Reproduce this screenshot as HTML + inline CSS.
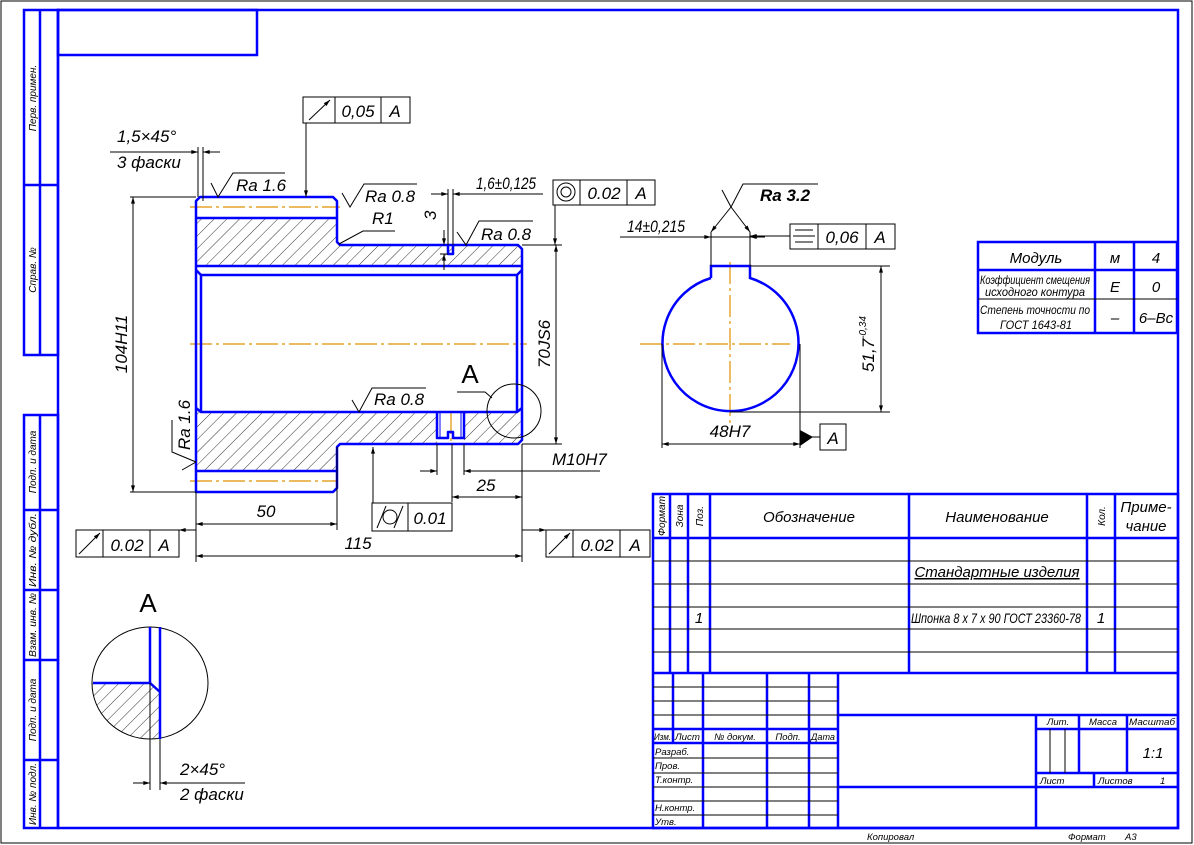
<!DOCTYPE html>
<html><head><meta charset="utf-8"><style>
html,body{margin:0;padding:0;background:#fff}
svg{display:block}
text{font-family:"Liberation Sans Narrow","Liberation Sans",sans-serif;font-style:italic;fill:#000}
</style></head><body>
<svg width="1194" height="845" viewBox="0 0 1194 845" xmlns="http://www.w3.org/2000/svg">
<defs>
<pattern id="h" patternUnits="userSpaceOnUse" width="9" height="9" patternTransform="rotate(45)">
<line x1="0" y1="0" x2="0" y2="9" stroke="#000" stroke-width="0.8"/>
</pattern>
<marker id="ar" viewBox="0 0 10 6" refX="10" refY="3" markerWidth="10" markerHeight="4" orient="auto-start-reverse" markerUnits="userSpaceOnUse"><path d="M0,0 L10,3 L0,6z" fill="#000"/></marker>
</defs>
<rect x="1" y="1" width="1191" height="842" fill="none" stroke="#000" stroke-width="1"/>
<g stroke="#0000ff" stroke-width="2.5" fill="none">
<rect x="58" y="10" width="1120" height="818"/>
<rect x="58" y="10" width="199" height="45"/>
<rect x="24" y="10" width="34" height="345"/>
<line x1="40" y1="10" x2="40" y2="355"/><line x1="24" y1="185" x2="58" y2="185"/>
<rect x="24" y="415" width="34" height="413"/>
<line x1="40" y1="415" x2="40" y2="828"/>
<line x1="24" y1="510" x2="58" y2="510"/><line x1="24" y1="590" x2="58" y2="590"/><line x1="24" y1="660" x2="58" y2="660"/><line x1="24" y1="760" x2="58" y2="760"/>
</g>
<g font-size="10">
<text transform="translate(36,98) rotate(-90)" text-anchor="middle">Перв. примен.</text>
<text transform="translate(36,270) rotate(-90)" text-anchor="middle">Справ. №</text>
<text transform="translate(36,462) rotate(-90)" text-anchor="middle">Подп. и дата</text>
<text transform="translate(36,550) rotate(-90)" text-anchor="middle" textLength="74" lengthAdjust="spacingAndGlyphs">Инв. № дубл.</text>
<text transform="translate(36,625) rotate(-90)" text-anchor="middle" textLength="64" lengthAdjust="spacingAndGlyphs">Взам. инв. №</text>
<text transform="translate(36,710) rotate(-90)" text-anchor="middle">Подп. и дата</text>
<text transform="translate(36,794) rotate(-90)" text-anchor="middle" textLength="62" lengthAdjust="spacingAndGlyphs">Инв. № подл.</text>
</g>

<g fill="url(#h)" stroke="none">
<rect x="196" y="218" width="141" height="48"/>
<rect x="337" y="245" width="185" height="21"/>
<rect x="196" y="412" width="141" height="59"/>
<rect x="337" y="412" width="100" height="32"/>
<rect x="464" y="412" width="58" height="32"/>
</g>
<g stroke="#e09000" stroke-width="1.2" stroke-dasharray="22,4,3,4">
<line x1="190" y1="344" x2="527" y2="344"/>
<line x1="190" y1="207" x2="340" y2="207"/>
<line x1="190" y1="481" x2="337" y2="481"/>
<line x1="640" y1="344" x2="790" y2="344"/>
<line x1="730" y1="262" x2="730" y2="424"/>
<line x1="451" y1="412" x2="451" y2="444"/>
</g>
<g stroke="#0000ff" stroke-width="2.5" fill="none" stroke-linejoin="round">
<path d="M196,492 L196,201 L200,197 L333,197 L337,201 L337,242 L340,245 L518,245 L522,249 L522,440 L518,444 L340,444 L337,447 L337,488 L333,492 L200,492 Z"/>
<line x1="196" y1="218" x2="337" y2="218"/>
<line x1="196" y1="266" x2="522" y2="266"/>
<line x1="196" y1="471" x2="337" y2="471"/>
<path d="M196,270 L201,275 L517,275 L522,270"/>
<path d="M196,408 L201,412 L517,412 L522,408"/>
<line x1="201" y1="275" x2="201" y2="412"/>
<line x1="517" y1="275" x2="517" y2="412"/>
<path d="M448,245 L448,254 L453,254 L453,245"/>
<path d="M437,412 L437,438 L448,438 L448,432 L453,432 L453,438 L464,438 L464,412"/>
<line x1="440" y1="412" x2="440" y2="438" stroke-width="1"/>
<line x1="461" y1="412" x2="461" y2="438" stroke-width="1"/>
</g>
<circle cx="514" cy="411" r="27" fill="none" stroke="#000" stroke-width="1"/>
<path d="M457,392 L485,392 L492,398" fill="none" stroke="#000" stroke-width="1"/>
<text x="470" y="383" font-size="26" text-anchor="middle" style="font-style:normal;font-family:'Liberation Sans',sans-serif">A</text>

<g stroke="#000" stroke-width="1" fill="none">
<line x1="130" y1="197" x2="196" y2="197"/><line x1="130" y1="492" x2="196" y2="492"/>
<line x1="133" y1="197" x2="133" y2="492" marker-start="url(#ar)" marker-end="url(#ar)"/>
<line x1="522" y1="245" x2="562" y2="245"/><line x1="522" y1="444" x2="562" y2="444"/>
<line x1="556" y1="245" x2="556" y2="444" marker-start="url(#ar)" marker-end="url(#ar)"/>
<line x1="196" y1="492" x2="196" y2="562"/>
<line x1="337" y1="447" x2="337" y2="530"/>
<line x1="522" y1="444" x2="522" y2="562"/>
<line x1="196" y1="524" x2="337" y2="524" marker-start="url(#ar)" marker-end="url(#ar)"/>
<line x1="196" y1="556" x2="522" y2="556" marker-start="url(#ar)" marker-end="url(#ar)"/>
<line x1="437" y1="444" x2="437" y2="475"/><line x1="464" y1="444" x2="464" y2="475"/>
<line x1="452" y1="444" x2="452" y2="502"/>
<line x1="452" y1="497" x2="522" y2="497" marker-start="url(#ar)" marker-end="url(#ar)"/>
<line x1="420" y1="471" x2="437" y2="471" marker-end="url(#ar)"/>
<line x1="481" y1="471" x2="464" y2="471" marker-end="url(#ar)"/>
<line x1="464" y1="471" x2="600" y2="471"/>
<line x1="198" y1="147" x2="198" y2="197"/><line x1="203" y1="147" x2="203" y2="201"/>
<line x1="110" y1="152" x2="198" y2="152"/>
<line x1="180" y1="152" x2="198" y2="152" marker-end="url(#ar)"/>
<line x1="220" y1="152" x2="203" y2="152" marker-end="url(#ar)"/>
<line x1="448" y1="189" x2="448" y2="245"/><line x1="453" y1="189" x2="453" y2="245"/>
<line x1="431" y1="194" x2="448" y2="194" marker-end="url(#ar)"/>
<line x1="470" y1="194" x2="453" y2="194" marker-end="url(#ar)"/>
<line x1="453" y1="194" x2="543" y2="194"/>
<line x1="440" y1="254" x2="448" y2="254"/>
<line x1="444" y1="230" x2="444" y2="245" marker-end="url(#ar)"/>
<line x1="444" y1="270" x2="444" y2="254" marker-end="url(#ar)"/>
<path d="M211,183 L218,197 L233,173 L285,173"/>
<path d="M342,193 L350,207 L364,184 L417,184"/>
<path d="M457,232 L466,245 L479,221 L533,221"/>
<path d="M352,400 L359,412 L372,388 L426,388"/>
<path d="M172,420 L172,452 L196,462 M182,470 L196,462"/>
<path d="M339,244 L363,231 L395,231"/>
<line x1="306" y1="123" x2="306" y2="197" marker-end="url(#ar)"/>
<line x1="555" y1="205" x2="555" y2="245" marker-end="url(#ar)"/>
<line x1="373" y1="503" x2="373" y2="447" marker-end="url(#ar)"/>
<line x1="179" y1="530" x2="196" y2="530" marker-start="url(#ar)"/>
<line x1="546" y1="530" x2="522" y2="530" marker-start="url(#ar)"/>
<line x1="790" y1="236" x2="750" y2="236" marker-end="url(#ar)"/>
<rect x="303" y="97" width="107" height="26"/><line x1="335" y1="97" x2="335" y2="123"/><line x1="381" y1="97" x2="381" y2="123"/>
<line x1="309" y1="120" x2="330" y2="100" marker-end="url(#ar)"/>
<rect x="76" y="530" width="103" height="27"/><line x1="103" y1="530" x2="103" y2="557"/><line x1="150" y1="530" x2="150" y2="557"/>
<line x1="79" y1="554" x2="100" y2="533" marker-end="url(#ar)"/>
<rect x="546" y="530" width="104" height="27"/><line x1="573" y1="530" x2="573" y2="557"/><line x1="620" y1="530" x2="620" y2="557"/>
<line x1="549" y1="554" x2="570" y2="533" marker-end="url(#ar)"/>
<rect x="372" y="503" width="80" height="28"/><line x1="408" y1="503" x2="408" y2="531"/>
<circle cx="390" cy="517" r="7"/><line x1="377" y1="528" x2="386" y2="506"/><line x1="394" y1="528" x2="403" y2="506"/>
<rect x="553" y="180" width="102" height="25"/><line x1="580" y1="180" x2="580" y2="205"/><line x1="627" y1="180" x2="627" y2="205"/>
<circle cx="566" cy="192" r="9"/><circle cx="566" cy="192" r="5"/>
<rect x="790" y="224" width="105" height="25"/><line x1="818" y1="224" x2="818" y2="249"/><line x1="866" y1="224" x2="866" y2="249"/>
<line x1="795" y1="230" x2="813" y2="230"/><line x1="793" y1="236" x2="815" y2="236"/><line x1="795" y1="242" x2="813" y2="242"/>
<rect x="820" y="424" width="26" height="26"/>
</g>

<g font-size="17">
<text x="358" y="117" text-anchor="middle">0,05</text><text x="395" y="117" text-anchor="middle">A</text>
<text x="127" y="551" text-anchor="middle">0.02</text><text x="164" y="551" text-anchor="middle">A</text>
<text x="597" y="551" text-anchor="middle">0.02</text><text x="635" y="551" text-anchor="middle">A</text>
<text x="430" y="524" text-anchor="middle">0.01</text>
<text x="604" y="199" text-anchor="middle">0.02</text><text x="641" y="199" text-anchor="middle">A</text>
<text x="842" y="243" text-anchor="middle">0,06</text><text x="880" y="243" text-anchor="middle">A</text>
<text x="833" y="444" text-anchor="middle">A</text>
<text x="117" y="142">1,5×45°</text>
<text x="117" y="168">3 фаски</text>
<text x="236" y="191">Ra 1.6</text>
<text x="365" y="202">Ra 0.8</text>
<text x="372" y="224">R1</text>
<text x="481" y="240">Ra 0.8</text>
<text x="374" y="405">Ra 0.8</text>
<text x="476" y="189" textLength="60" lengthAdjust="spacingAndGlyphs">1,6±0,125</text>
<text transform="translate(436,220) rotate(-90)">3</text>
<text transform="translate(127,344) rotate(-90)" text-anchor="middle">104H11</text>
<text transform="translate(550,344) rotate(-90)" text-anchor="middle">70JS6</text>
<text transform="translate(190,425) rotate(-90)" text-anchor="middle">Ra 1.6</text>
<text x="266" y="517" text-anchor="middle">50</text>
<text x="358" y="549" text-anchor="middle">115</text>
<text x="486" y="491" text-anchor="middle">25</text>
<text x="552" y="465">M10H7</text>
<text x="627" y="232" textLength="58" lengthAdjust="spacingAndGlyphs">14±0,215</text>
<text x="760" y="201" font-weight="bold">Ra 3.2</text>
<text x="730" y="437" text-anchor="middle">48H7</text>
<text transform="translate(874,344) rotate(-90)" text-anchor="middle">51,7<tspan font-size="10" dy="-8">-0,34</tspan></text>
<text x="180" y="775">2×45°</text>
<text x="180" y="800">2 фаски</text>
</g>

<path d="M711,278 L711,266 L750,266 L750,278 A68,68 0 1 1 711,278" fill="none" stroke="#0000ff" stroke-width="2.5"/>
<g stroke="#000" stroke-width="1" fill="none">
<line x1="750" y1="266" x2="890" y2="266"/><line x1="730" y1="412" x2="890" y2="412"/>
<line x1="881" y1="266" x2="881" y2="412" marker-start="url(#ar)" marker-end="url(#ar)"/>
<line x1="662" y1="344" x2="662" y2="448"/><line x1="800" y1="344" x2="800" y2="448"/>
<line x1="662" y1="444" x2="800" y2="444" marker-start="url(#ar)" marker-end="url(#ar)"/>
<line x1="711" y1="266" x2="711" y2="232"/><line x1="750" y1="266" x2="750" y2="232"/>
<line x1="620" y1="237" x2="750" y2="237"/>
<line x1="695" y1="237" x2="711" y2="237" marker-end="url(#ar)"/>
<line x1="765" y1="237" x2="750" y2="237" marker-end="url(#ar)"/>
<line x1="731" y1="207" x2="711" y2="232" marker-end="url(#ar)"/>
<line x1="731" y1="207" x2="750" y2="232" marker-end="url(#ar)"/>
<path d="M722,190 L731,207 L743,184 L818,184"/>
<line x1="800" y1="437" x2="820" y2="437"/>
</g>
<path d="M800,430 L800,446 L813,437 Z" fill="#000"/>

<g stroke="#0000ff" stroke-width="2.5" fill="none">
<rect x="978" y="242" width="199" height="91"/>
<line x1="978" y1="270" x2="1177" y2="270"/>
<line x1="1095" y1="242" x2="1095" y2="333"/><line x1="1134" y1="242" x2="1134" y2="333"/>
</g>
<line x1="978" y1="299" x2="1177" y2="299" stroke="#000" stroke-width="1"/>
<g font-size="15">
<text x="1036" y="263" text-anchor="middle">Модуль</text>
<text x="1115" y="263" text-anchor="middle">м</text>
<text x="1156" y="263" text-anchor="middle">4</text>
<text x="1115" y="292" text-anchor="middle">E</text>
<text x="1156" y="292" text-anchor="middle">0</text>
<text x="1115" y="323" text-anchor="middle">–</text>
<text x="1156" y="323" text-anchor="middle">6–Bc</text>
</g>
<g font-size="12">
<text x="980" y="284" textLength="110" lengthAdjust="spacingAndGlyphs">Коэффициент смещения</text>
<text x="985" y="296" textLength="100" lengthAdjust="spacingAndGlyphs">исходного контура</text>
<text x="980" y="314" textLength="110" lengthAdjust="spacingAndGlyphs">Степень точности по</text>
<text x="1000" y="329" textLength="72" lengthAdjust="spacingAndGlyphs">ГОСТ 1643-81</text>
</g>

<clipPath id="cl"><ellipse cx="150" cy="683" rx="58" ry="56"/></clipPath>
<path d="M92,683 L150,683 L160,692 L160,740 L92,740 Z" fill="url(#h)" clip-path="url(#cl)"/>
<ellipse cx="150" cy="683" rx="58" ry="56" fill="none" stroke="#000" stroke-width="1"/>
<g stroke="#0000ff" stroke-width="2.5" fill="none">
<line x1="150" y1="627" x2="150" y2="683"/>
<line x1="160" y1="627" x2="160" y2="739"/>
<path d="M93,683 L150,683 L160,692"/>
</g>
<g stroke="#000" stroke-width="1" fill="none">
<line x1="150" y1="683" x2="150" y2="790"/><line x1="160" y1="739" x2="160" y2="790"/>
<line x1="133" y1="783" x2="150" y2="783" marker-end="url(#ar)"/>
<line x1="177" y1="783" x2="160" y2="783" marker-end="url(#ar)"/>
<line x1="160" y1="783" x2="245" y2="783"/>
</g>
<text x="148" y="612" font-size="26" text-anchor="middle" style="font-style:normal;font-family:'Liberation Sans',sans-serif">A</text>

<g stroke="#0000ff" stroke-width="2.5" fill="none">
<rect x="653" y="494" width="525" height="334"/>
<line x1="653" y1="538" x2="1178" y2="538"/>
<line x1="653" y1="673" x2="1178" y2="673"/>
<line x1="670" y1="494" x2="670" y2="673"/><line x1="688" y1="494" x2="688" y2="673"/>
<line x1="710" y1="494" x2="710" y2="673"/><line x1="909" y1="494" x2="909" y2="673"/>
<line x1="1087" y1="494" x2="1087" y2="673"/><line x1="1115" y1="494" x2="1115" y2="673"/>
<line x1="673" y1="673" x2="673" y2="743"/><line x1="703" y1="673" x2="703" y2="828"/>
<line x1="767" y1="673" x2="767" y2="828"/><line x1="809" y1="673" x2="809" y2="828"/>
<line x1="838" y1="673" x2="838" y2="828"/>
<line x1="653" y1="729" x2="838" y2="729"/><line x1="653" y1="743" x2="838" y2="743"/>
<line x1="838" y1="715" x2="1178" y2="715"/><line x1="838" y1="787" x2="1178" y2="787"/>
<line x1="1036" y1="715" x2="1036" y2="828"/>
<line x1="1036" y1="729" x2="1178" y2="729"/><line x1="1036" y1="773" x2="1178" y2="773"/>
<line x1="1079" y1="715" x2="1079" y2="773"/><line x1="1127" y1="715" x2="1127" y2="773"/>
<line x1="1094" y1="773" x2="1094" y2="787"/>
</g>
<g stroke="#000" stroke-width="1">
<line x1="653" y1="561" x2="1178" y2="561"/><line x1="653" y1="584" x2="1178" y2="584"/>
<line x1="653" y1="607" x2="1178" y2="607"/><line x1="653" y1="629" x2="1178" y2="629"/>
<line x1="653" y1="652" x2="1178" y2="652"/>
<line x1="653" y1="687" x2="838" y2="687"/><line x1="653" y1="701" x2="838" y2="701"/><line x1="653" y1="715" x2="838" y2="715"/>
<line x1="653" y1="758" x2="838" y2="758"/><line x1="653" y1="773" x2="838" y2="773"/><line x1="653" y1="787" x2="838" y2="787"/>
<line x1="653" y1="801" x2="838" y2="801"/><line x1="653" y1="815" x2="838" y2="815"/>
<line x1="1050" y1="729" x2="1050" y2="773"/><line x1="1065" y1="729" x2="1065" y2="773"/>
</g>
<g font-size="10">
<text transform="translate(665,516) rotate(-90)" text-anchor="middle" textLength="40" lengthAdjust="spacingAndGlyphs">Формат</text>
<text transform="translate(683,516) rotate(-90)" text-anchor="middle">Зона</text>
<text transform="translate(703,516) rotate(-90)" text-anchor="middle">Поз.</text>
<text transform="translate(1105,516) rotate(-90)" text-anchor="middle">Кол.</text>
</g>
<g font-size="15">
<text x="809" y="522" text-anchor="middle">Обозначение</text>
<text x="997" y="522" text-anchor="middle">Наименование</text>
<text x="1146" y="512" text-anchor="middle">Приме-</text>
<text x="1146" y="531" text-anchor="middle">чание</text>
<text x="997" y="577" text-anchor="middle" text-decoration="underline">Стандартные изделия</text>
<text x="699" y="623" text-anchor="middle">1</text>
<text x="1101" y="623" text-anchor="middle">1</text>
<text x="1153" y="758" text-anchor="middle">1:1</text>
</g>
<text x="911" y="623" font-size="14" textLength="170" lengthAdjust="spacingAndGlyphs">Шпонка 8 х 7 х 90 ГОСТ 23360-78</text>
<g font-size="9.5">
<text x="654" y="740" textLength="17" lengthAdjust="spacingAndGlyphs">Изм.</text><text x="675" y="740" textLength="25" lengthAdjust="spacingAndGlyphs">Лист</text>
<text x="735" y="740" text-anchor="middle">№ докум.</text>
<text x="788" y="740" text-anchor="middle">Подп.</text>
<text x="823" y="740" text-anchor="middle" textLength="24" lengthAdjust="spacingAndGlyphs">Дата</text>
<text x="655" y="755">Разраб.</text>
<text x="655" y="769">Пров.</text>
<text x="655" y="783">Т.контр.</text>
<text x="655" y="811">Н.контр.</text>
<text x="655" y="825">Утв.</text>
<text x="1058" y="725" text-anchor="middle">Лит.</text>
<text x="1103" y="725" text-anchor="middle">Масса</text>
<text x="1152" y="725" text-anchor="middle" textLength="46" lengthAdjust="spacingAndGlyphs">Масштаб</text>
<text x="1040" y="784">Лист</text>
<text x="1098" y="784">Листов</text><text x="1160" y="784">1</text>
<text x="867" y="840">Копировал</text>
<text x="1068" y="840">Формат</text><text x="1125" y="840">A3</text>
</g>
</svg>
</body></html>
